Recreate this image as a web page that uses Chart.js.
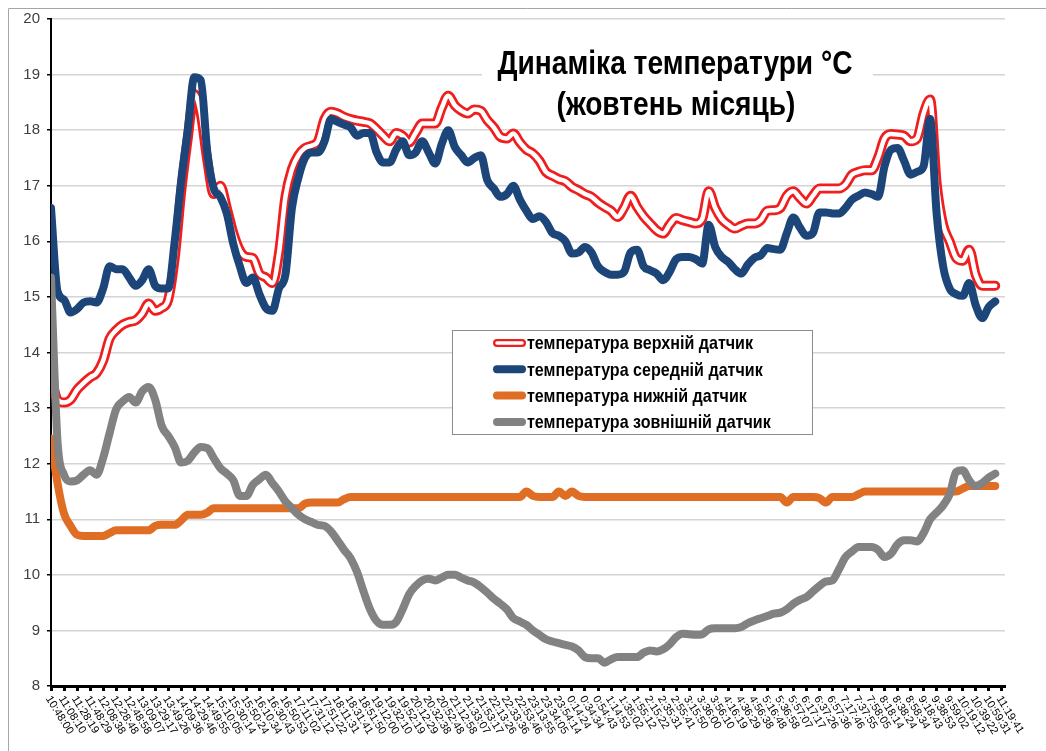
<!DOCTYPE html>
<html>
<head>
<meta charset="utf-8">
<title>Динаміка температури</title>
<script src="https://cdn.jsdelivr.net/npm/chart.js@4/dist/chart.umd.min.js"></script>
<style>
  html, body { margin: 0; padding: 0; background: #fff; }
  #wrap { width: 1046px; height: 751px; }
</style>
</head>
<body>
<div id="wrap"><canvas id="tempChart" width="1046" height="751"></canvas></div>
<script>
// Time labels under every tick (one tick = 20 min 9.6 s)
const timeLabels = [
    '10:48:00','11:08:10','11:28:19','11:48:29','12:08:38','12:28:48','12:48:58','13:09:07','13:29:17','13:49:26',
    '14:09:36','14:29:46','14:49:55','15:10:05','15:30:14','15:50:24','16:10:34','16:30:43','16:50:53','17:11:02',
    '17:31:12','17:51:22','18:11:31','18:31:41','18:51:50','19:12:00','19:32:10','19:52:19','20:12:29','20:32:38',
    '20:52:48','21:12:58','21:33:07','21:53:17','22:13:26','22:33:36','22:53:46','23:13:55','23:34:05','23:54:14',
    '0:14:24','0:34:34','0:54:43','1:14:53','1:35:02','1:55:12','2:15:22','2:35:31','2:55:41','3:15:50',
    '3:36:00','3:56:10','4:16:19','4:36:29','4:56:38','5:16:48','5:36:58','5:57:07','6:17:17','6:37:26',
    '6:57:36','7:17:46','7:37:55','7:58:05','8:18:14','8:38:24','8:58:34','9:18:43','9:38:53','9:59:02',
    '10:19:12','10:39:22','10:59:31','11:19:41'
];

const chartTitle = ['Динаміка температури °C', '(жовтень місяць)'];

const seriesNames = [
    'температура верхній датчик',
    'температура середній датчик',
    'температура нижній датчик',
    'температура зовнішній датчик'
];

// readings, two per tick interval
const upperSensor = [
    13.55, 13.15, 13.1, 13.15, 13.33, 13.45, 13.55, 13.63, 13.85, 14.25,
    14.4, 14.5, 14.55, 14.58, 14.7, 14.88, 14.75, 14.8, 14.95, 15.7,
    16.9, 17.85, 18.65, 18.3, 17.46, 16.85, 17.0, 16.6, 16.15, 15.84,
    15.72, 15.7, 15.42, 15.35, 15.25, 15.78, 16.8, 17.3, 17.55, 17.68,
    17.72, 17.8, 18.2, 18.33, 18.3, 18.24, 18.2, 18.17, 18.15, 18.12,
    18.02, 17.9, 17.8, 17.95, 17.9, 17.78, 17.95, 18.12, 18.12, 18.12,
    18.4, 18.62, 18.45, 18.35, 18.3, 18.37, 18.35, 18.18, 18.05, 17.88,
    17.85, 17.94, 17.78, 17.65, 17.58, 17.45, 17.25, 17.18, 17.12, 17.08,
    16.98, 16.92, 16.85, 16.8, 16.7, 16.62, 16.55, 16.44, 16.6, 16.82,
    16.62, 16.45, 16.32, 16.2, 16.14, 16.3, 16.42, 16.38, 16.35, 16.32,
    16.4, 16.9, 16.6, 16.4, 16.3, 16.23, 16.28, 16.32, 16.32, 16.38,
    16.55, 16.56, 16.6, 16.82, 16.9, 16.78, 16.68, 16.82, 16.95, 16.95,
    16.95, 16.95, 17.02, 17.2, 17.25, 17.28, 17.28, 17.5, 17.85, 17.93,
    17.92, 17.9, 17.8, 17.85, 18.3, 18.55, 17.05, 16.3, 16.0, 15.7,
    15.65, 15.85, 15.4, 15.2, 15.2, 15.2
];

const middleSensor = [
    16.6, 15.1, 14.95, 14.72, 14.78, 14.9, 14.92, 14.9, 15.15, 15.55,
    15.5, 15.5, 15.35, 15.2, 15.3, 15.5, 15.2, 15.15, 15.15, 16.0,
    17.1, 18.0, 18.95, 18.9, 17.6, 16.95, 16.8, 16.5, 15.95, 15.55,
    15.25, 15.35, 15.05, 14.8, 14.75, 15.15, 15.4, 16.6, 17.15, 17.5,
    17.6, 17.6, 17.8, 18.2, 18.15, 18.1, 18.05, 17.9, 17.95, 17.95,
    17.6, 17.42, 17.42, 17.65, 17.8, 17.55, 17.6, 17.8, 17.6, 17.4,
    17.75, 18.0, 17.7, 17.55, 17.42, 17.5, 17.55, 17.1, 16.95, 16.8,
    16.85, 17.0, 16.75, 16.55, 16.4, 16.45, 16.35, 16.15, 16.1, 16.0,
    15.78, 15.8, 15.9, 15.8, 15.55, 15.45, 15.4, 15.4, 15.45, 15.8,
    15.85, 15.55, 15.48, 15.42, 15.3, 15.45, 15.68, 15.72, 15.72, 15.68,
    15.6, 16.3, 15.9, 15.72, 15.63, 15.5, 15.42, 15.58, 15.7, 15.75,
    15.88, 15.86, 15.85, 16.15, 16.43, 16.25, 16.1, 16.15, 16.52, 16.52,
    16.5, 16.5, 16.6, 16.75, 16.82, 16.88, 16.85, 16.8, 17.35, 17.65,
    17.68, 17.45, 17.2, 17.25, 17.35, 18.2, 16.5, 15.55, 15.15, 15.05,
    15.02, 15.25, 14.85, 14.62, 14.82, 14.92
];

const lowerSensor = [
    12.45, 11.65, 11.1, 10.88, 10.72, 10.7, 10.7, 10.7, 10.7, 10.75,
    10.8, 10.8, 10.8, 10.8, 10.8, 10.8, 10.88, 10.9, 10.9, 10.9,
    10.98, 11.08, 11.08, 11.08, 11.12, 11.2, 11.2, 11.2, 11.2, 11.2,
    11.2, 11.2, 11.2, 11.2, 11.2, 11.2, 11.2, 11.2, 11.2, 11.28,
    11.3, 11.3, 11.3, 11.3, 11.3, 11.36, 11.4, 11.4, 11.4, 11.4,
    11.4, 11.4, 11.4, 11.4, 11.4, 11.4, 11.4, 11.4, 11.4, 11.4,
    11.4, 11.4, 11.4, 11.4, 11.4, 11.4, 11.4, 11.4, 11.4, 11.4,
    11.4, 11.4, 11.4, 11.5, 11.42, 11.4, 11.4, 11.4, 11.5, 11.42,
    11.5, 11.42, 11.4, 11.4, 11.4, 11.4, 11.4, 11.4, 11.4, 11.4,
    11.4, 11.4, 11.4, 11.4, 11.4, 11.4, 11.4, 11.4, 11.4, 11.4,
    11.4, 11.4, 11.4, 11.4, 11.4, 11.4, 11.4, 11.4, 11.4, 11.4,
    11.4, 11.4, 11.4, 11.3, 11.4, 11.4, 11.4, 11.4, 11.38, 11.3,
    11.4, 11.4, 11.4, 11.4, 11.45, 11.5, 11.5, 11.5, 11.5, 11.5,
    11.5, 11.5, 11.5, 11.5, 11.5, 11.5, 11.5, 11.5, 11.5, 11.5,
    11.55, 11.6, 11.6, 11.6, 11.6, 11.6
];

const outsideSensor = [
    15.35, 12.4, 11.8, 11.68, 11.7, 11.8, 11.88, 11.8, 12.1, 12.55,
    12.98, 13.12, 13.2, 13.1, 13.3, 13.38, 13.15, 12.68, 12.5, 12.3,
    12.02, 12.05, 12.2, 12.3, 12.28, 12.1, 11.92, 11.82, 11.7, 11.42,
    11.42, 11.62, 11.72, 11.8, 11.65, 11.5, 11.32, 11.2, 11.08, 11.0,
    10.95, 10.9, 10.88, 10.78, 10.62, 10.45, 10.3, 10.05, 9.7, 9.38,
    9.17, 9.1, 9.1, 9.15, 9.38, 9.65, 9.8, 9.9, 9.93, 9.9,
    9.95, 10.0, 10.0, 9.95, 9.9, 9.86, 9.78, 9.68, 9.57, 9.48,
    9.38, 9.22, 9.16, 9.1, 9.0, 8.92, 8.84, 8.8, 8.77, 8.74,
    8.71, 8.64, 8.52, 8.5, 8.5, 8.42, 8.48, 8.52, 8.52, 8.52,
    8.52, 8.6, 8.64, 8.62, 8.66, 8.75, 8.88, 8.94, 8.93, 8.92,
    8.93, 9.02, 9.04, 9.04, 9.04, 9.04, 9.06, 9.13, 9.18, 9.22,
    9.26, 9.3, 9.32, 9.38, 9.48, 9.55, 9.6, 9.7, 9.8, 9.88,
    9.9, 10.1, 10.32, 10.42, 10.5, 10.5, 10.5, 10.45, 10.32, 10.38,
    10.55, 10.62, 10.62, 10.6, 10.75, 11.0, 11.12, 11.25, 11.45, 11.85,
    11.88, 11.7, 11.6, 11.65, 11.75, 11.82
];

const lineColors = ['#f01e1e', '#1c4679', '#df6d24', '#828282'];

// position of each reading on the tick axis (0 = first label)
const xPos = upperSensor.map((v, i) => i / 2);
const toPoints = arr => arr.map((v, i) => ({ x: xPos[i], y: v }));

const FONT = '"Liberation Sans", Arial, sans-serif';

function narrowText(ctx, text, x, y, font, sx, align) {
    ctx.save();
    ctx.font = font;
    ctx.translate(x, y);
    ctx.scale(sx, 1);
    ctx.textAlign = align;
    ctx.fillText(text, 0, 0);
    ctx.restore();
}

// white page + frame
const framePlugin = {
    id: 'frame',
    beforeDraw(chart) {
        const ctx = chart.ctx;
        ctx.save();
        ctx.fillStyle = '#fff';
        ctx.fillRect(0, 0, chart.width, chart.height);
        ctx.strokeStyle = '#a6a6a6';
        ctx.lineWidth = 1;
        ctx.beginPath();
        ctx.moveTo(8.5, chart.height);
        ctx.lineTo(8.5, 8.5);
        ctx.lineTo(chart.width, 8.5);
        ctx.stroke();
        ctx.restore();
    }
};

// title sits inside the plot on a white box
const titlePlugin = {
    id: 'boxTitle',
    beforeDatasetsDraw(chart) {
        const ctx = chart.ctx;
        ctx.save();
        ctx.fillStyle = '#fff';
        ctx.fillRect(482, 36, 391, 90);
        ctx.fillStyle = '#000';
        ctx.textBaseline = 'alphabetic';
        const font = 'bold 33px ' + FONT;
        ctx.font = font;
        const sx = 355 / ctx.measureText(chartTitle[0]).width;
        narrowText(ctx, chartTitle[0], 675, 74, font, sx, 'center');
        narrowText(ctx, chartTitle[1], 676, 115, font, sx, 'center');
        ctx.restore();
    }
};

// legend box in the middle of the plot
const legendPlugin = {
    id: 'boxLegend',
    afterDraw(chart) {
        const ctx = chart.ctx;
        ctx.save();
        ctx.fillStyle = '#fff';
        ctx.fillRect(452, 330, 361, 105);
        ctx.strokeStyle = '#8c8c8c';
        ctx.lineWidth = 1;
        ctx.strokeRect(452.5, 330.5, 360, 104);

        const font = 'bold 19px ' + FONT;
        ctx.font = font;
        const sx = 226 / ctx.measureText(seriesNames[0]).width;
        ctx.lineCap = 'round';
        seriesNames.forEach((name, i) => {
            const y = 343 + i * 26.3;
            ctx.strokeStyle = lineColors[i];
            ctx.lineWidth = 8;
            ctx.beginPath();
            ctx.moveTo(497, y);
            ctx.lineTo(522, y);
            ctx.stroke();
            if (i === 0) {
                ctx.strokeStyle = '#fff';
                ctx.lineWidth = 3.5;
                ctx.beginPath();
                ctx.moveTo(497, y);
                ctx.lineTo(522, y);
                ctx.stroke();
            }
            ctx.fillStyle = '#000';
            ctx.textBaseline = 'middle';
            narrowText(ctx, name, 527, y + 1, font, sx, 'left');
        });
        ctx.restore();
    }
};

// slanted time labels, reading downwards from each tick
const timeAxisPlugin = {
    id: 'timeAxis',
    afterDraw(chart) {
        const ctx = chart.ctx;
        const xs = chart.scales.x;
        ctx.save();
        ctx.font = '11px ' + FONT;
        ctx.fillStyle = '#000';
        ctx.textAlign = 'left';
        ctx.textBaseline = 'middle';
        xs.ticks.forEach(t => {
            const label = timeLabels[Math.round(t.value)];
            if (label === undefined) return;
            const px = xs.getPixelForValue(t.value);
            ctx.save();
            ctx.translate(px - 3, xs.top + 11);
            ctx.rotate(58 * Math.PI / 180);
            ctx.fillText(label, 0, 0);
            ctx.restore();
        });
        ctx.restore();
    }
};

const lineBase = {
    pointRadius: 0,
    pointHoverRadius: 0,
    fill: false,
    cubicInterpolationMode: 'monotone',
    borderCapStyle: 'round',
    borderJoinStyle: 'round'
};

const chart = new Chart(document.getElementById('tempChart'), {
    type: 'line',
    data: {
        datasets: [
            Object.assign({}, lineBase, { label: seriesNames[0], data: toPoints(upperSensor), borderColor: lineColors[0], borderWidth: 10, order: 6 }),
            Object.assign({}, lineBase, { label: 'core', data: toPoints(upperSensor), borderColor: '#fff', borderWidth: 4.5, order: 5 }),
            Object.assign({}, lineBase, { label: seriesNames[1], data: toPoints(middleSensor), borderColor: lineColors[1], borderWidth: 8, order: 4 }),
            Object.assign({}, lineBase, { label: seriesNames[2], data: toPoints(lowerSensor), borderColor: lineColors[2], borderWidth: 8, order: 3 }),
            Object.assign({}, lineBase, { label: seriesNames[3], data: toPoints(outsideSensor), borderColor: lineColors[3], borderWidth: 8, order: 2 })
        ]
    },
    options: {
        responsive: false,
        animation: false,
        devicePixelRatio: 1,
        layout: { padding: { top: 19, right: 41, bottom: 0, left: 0 } },
        plugins: {
            legend: { display: false },
            tooltip: { enabled: false },
            title: { display: false }
        },
        scales: {
            x: {
                type: 'linear',
                min: 0,
                max: 73.25,
                afterFit: scale => { scale.height = 65; },
                ticks: {
                    display: false,
                    stepSize: 1,
                    maxTicksLimit: 200,
                    autoSkip: false,
                    includeBounds: false
                },
                grid: {
                    display: true,
                    drawOnChartArea: false,
                    drawTicks: true,
                    tickLength: 5,
                    tickColor: '#000',
                    tickWidth: 3
                },
                border: { color: '#000', width: 3 }
            },
            y: {
                min: 8,
                max: 20,
                afterFit: scale => { scale.width = 51; },
                ticks: {
                    stepSize: 1,
                    padding: 7,
                    color: '#404040',
                    font: { family: FONT, size: 15 }
                },
                grid: {
                    color: '#d4d4d4',
                    lineWidth: 1.5,
                    tickColor: '#000',
                    tickLength: 4,
                    tickWidth: 1.5
                },
                border: { color: '#000', width: 2 }
            }
        }
    },
    plugins: [framePlugin, titlePlugin, legendPlugin, timeAxisPlugin]
});
</script>
</body>
</html>
